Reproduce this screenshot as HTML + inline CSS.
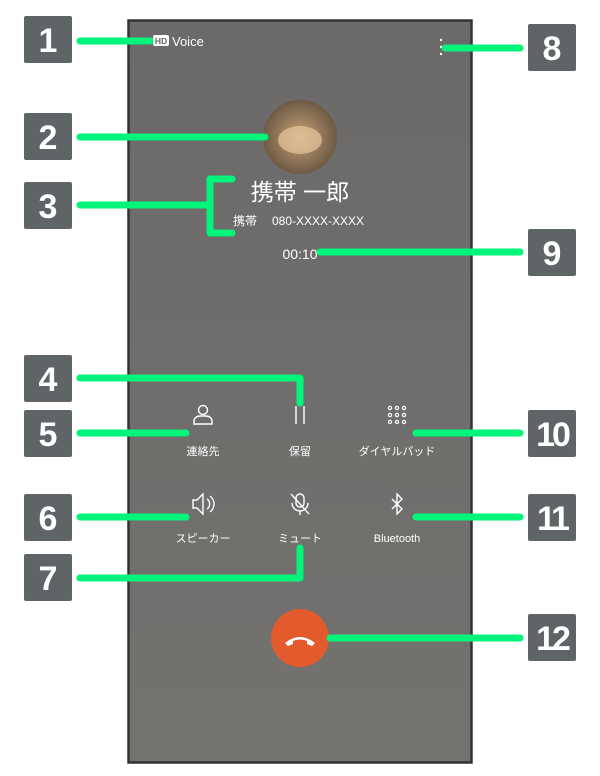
<!DOCTYPE html>
<html><head><meta charset="utf-8"><style>
html,body{margin:0;padding:0;background:#fff;}
svg{display:block;}
text{font-family:"Liberation Sans","Noto Sans CJK JP",sans-serif;fill:#fff;}
.b{fill:#5f6467;}
.n{font-weight:bold;font-size:34px;fill:#fff;}
.g{stroke:#00f57a;stroke-width:7;stroke-linecap:round;stroke-linejoin:round;fill:none;}
.ic{stroke:#fff;stroke-width:1.4;fill:none;}
</style></head><body>
<svg width="600" height="776" viewBox="0 0 600 776">
<defs><linearGradient id="bg" x1="0" y1="0" x2="0" y2="1"><stop offset="0" stop-color="#6c6a69"/><stop offset="1" stop-color="#74726f"/></linearGradient>
<radialGradient id="av" cx="0.5" cy="0.5" r="0.5"><stop offset="0" stop-color="#c9a27a"/><stop offset="1" stop-color="#6d5a44"/></radialGradient></defs>
<rect x="128.5" y="20.5" width="343" height="742" fill="url(#bg)" stroke="#333" stroke-width="2.5"/>
<!-- top -->
<rect x="153" y="35" width="16" height="11" rx="2" fill="#fff"/>
<text x="161" y="44" font-size="8.5" font-weight="bold" text-anchor="middle" style="fill:#666">HD</text>
<text x="172" y="46" font-size="13">Voice</text>
<circle cx="441" cy="40" r="1.2" fill="#fff"/><circle cx="441" cy="47" r="1.2" fill="#fff"/><circle cx="441" cy="54" r="1.2" fill="#fff"/>
<circle cx="300" cy="137" r="37" fill="url(#av)"/>
<ellipse cx="300" cy="140" rx="22" ry="14" fill="#e8c79c" opacity="0.7"/>
<text x="300" y="200" font-size="23" text-anchor="middle">携帯 一郎</text>
<text x="233" y="225" font-size="12">携帯</text>
<text x="272" y="225" font-size="12">080-XXXX-XXXX</text>
<text x="300" y="259" font-size="14" text-anchor="middle">00:10</text>
<!-- icons row 1 -->
<circle cx="203" cy="410" r="4.5" class="ic"/><path d="M194 424 v-3 a6 5 0 0 1 6 -5 h6 a6 5 0 0 1 6 5 v3 z" class="ic"/>
<line x1="296" y1="406" x2="296" y2="424" class="ic"/><line x1="304" y1="406" x2="304" y2="424" class="ic"/>
<g fill="none" stroke="#fff" stroke-width="1.2">
<circle cx="390" cy="408" r="1.6"/><circle cx="397" cy="408" r="1.6"/><circle cx="404" cy="408" r="1.6"/>
<circle cx="390" cy="415" r="1.6"/><circle cx="397" cy="415" r="1.6"/><circle cx="404" cy="415" r="1.6"/>
<circle cx="390" cy="422" r="1.6"/><circle cx="397" cy="422" r="1.6"/><circle cx="404" cy="422" r="1.6"/></g>
<text x="203" y="455" font-size="11" text-anchor="middle">連絡先</text>
<text x="300" y="455" font-size="11" text-anchor="middle">保留</text>
<text x="397" y="455" font-size="11" text-anchor="middle">ダイヤルパッド</text>
<!-- row 2 -->
<path d="M193 500 h4 l6 -6 v20 l-6 -6 h-4 z" class="ic"/><path d="M207 499 a6 6 0 0 1 0 10 M210 496 a10 10 0 0 1 0 16" class="ic"/>
<rect x="296" y="494" width="8" height="13" rx="4" class="ic"/><path d="M292 503 a8 8 0 0 0 16 0 M300 511 v4 M291 494 l18 20" class="ic"/>
<path d="M392 499 l10 10 l-5 5 v-20 l5 5 l-10 10" class="ic"/>
<text x="203" y="542" font-size="11" text-anchor="middle">スピーカー</text>
<text x="300" y="542" font-size="11" text-anchor="middle">ミュート</text>
<text x="397" y="542" font-size="11" text-anchor="middle">Bluetooth</text>
<circle cx="300" cy="638" r="29" fill="#e35a2d"/>
<path d="M285 643 q15 -12 30 0 l-3 3 l-5 -2 v-3 q-7 -3 -14 0 v3 l-5 2 z" fill="#fff"/>
<!-- green lines -->
<path class="g" d="M80 41 H150"/>
<path class="g" d="M80 137 H265"/>
<path class="g" d="M80 205 H210 M232 179 H210 V233 H232"/>
<path class="g" d="M80 378 H300 V403"/>
<path class="g" d="M80 433 H186"/>
<path class="g" d="M80 517 H186"/>
<path class="g" d="M80 578 H300 V548"/>
<path class="g" d="M445 48 H520"/>
<path class="g" d="M320 252 H520"/>
<path class="g" d="M416 433 H520"/>
<path class="g" d="M416 517 H520"/>
<path class="g" d="M330 638 H520"/>
<!-- badges -->
<g>
<rect class="b" x="24" y="16" width="48" height="47" rx="2"/><text class="n" x="48" y="52" text-anchor="middle">1</text>
<rect class="b" x="24" y="113" width="48" height="47" rx="2"/><text class="n" x="48" y="149" text-anchor="middle">2</text>
<rect class="b" x="24" y="182" width="48" height="47" rx="2"/><text class="n" x="48" y="218" text-anchor="middle">3</text>
<rect class="b" x="24" y="355" width="48" height="47" rx="2"/><text class="n" x="48" y="391" text-anchor="middle">4</text>
<rect class="b" x="24" y="410" width="48" height="47" rx="2"/><text class="n" x="48" y="446" text-anchor="middle">5</text>
<rect class="b" x="24" y="494" width="48" height="47" rx="2"/><text class="n" x="48" y="530" text-anchor="middle">6</text>
<rect class="b" x="24" y="554" width="48" height="47" rx="2"/><text class="n" x="48" y="590" text-anchor="middle">7</text>
<rect class="b" x="528" y="24" width="48" height="47" rx="2"/><text class="n" x="552" y="60" text-anchor="middle">8</text>
<rect class="b" x="528" y="229" width="48" height="47" rx="2"/><text class="n" x="552" y="265" text-anchor="middle">9</text>
<rect class="b" x="528" y="410" width="48" height="47" rx="2"/><text class="n" x="552" y="446" text-anchor="middle" style="letter-spacing:-3px">10</text>
<rect class="b" x="528" y="494" width="48" height="47" rx="2"/><text class="n" x="552" y="530" text-anchor="middle" style="letter-spacing:-3px">11</text>
<rect class="b" x="528" y="614" width="48" height="47" rx="2"/><text class="n" x="552" y="650" text-anchor="middle" style="letter-spacing:-3px">12</text>
</g>
</svg>
</body></html>
